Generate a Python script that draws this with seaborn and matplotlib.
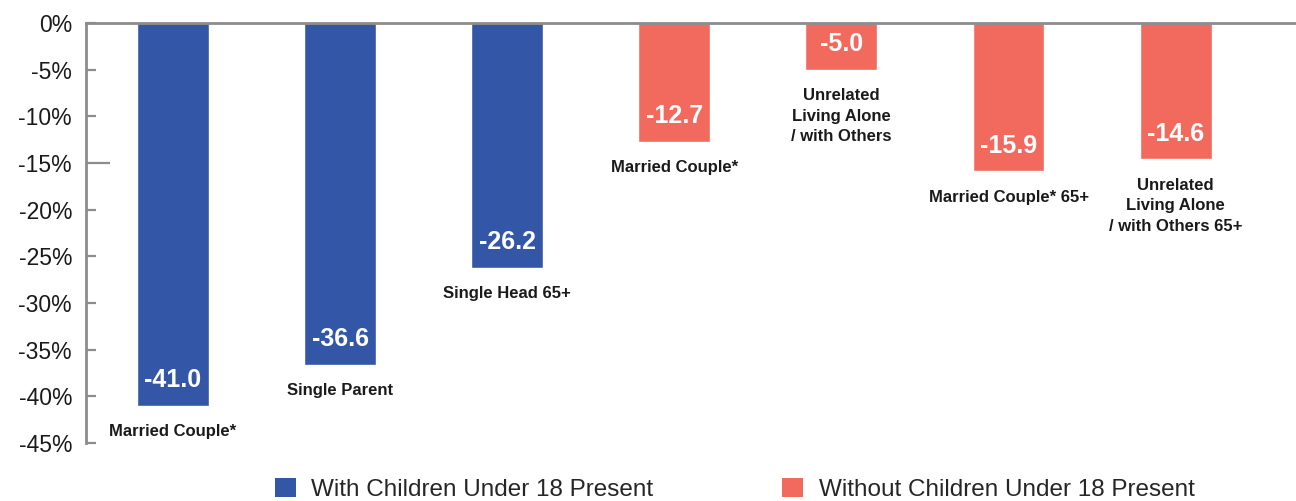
import matplotlib
matplotlib.use("Agg")
import matplotlib.pyplot as plt
from matplotlib.patches import Patch
import pandas as pd
import seaborn as sns

# Household types and their percentage change
labels = [
    "Married Couple*",
    "Single Parent",
    "Single Head 65+",
    "Married Couple*",
    "Unrelated\nLiving Alone\n/ with Others",
    "Married Couple* 65+",
    "Unrelated\nLiving Alone\n/ with Others 65+",
]
values = [-41.0, -36.6, -26.2, -12.7, -5.0, -15.9, -14.6]
groups = ["With Children Under 18 Present"] * 3 + ["Without Children Under 18 Present"] * 4
group_names = ["With Children Under 18 Present", "Without Children Under 18 Present"]
colors = ["#3357A6", "#F26A5D"]
yticks = [0, -5, -10, -15, -20, -25, -30, -35, -40, -45]

sns.set_style("white")
plt.rcParams["font.family"] = ["Liberation Sans", "DejaVu Sans"]

df = pd.DataFrame({"pos": list(range(len(values))), "value": values, "group": groups})

fig = plt.figure(figsize=(12.96, 5.01), dpi=100)
ax = fig.add_axes([86 / 1296, 1 - 443 / 501, 1 - 86 / 1296, (443 - 23) / 501])

sns.barplot(
    data=df, x="pos", y="value", hue="group", hue_order=group_names,
    palette=colors, dodge=False, width=0.43, saturation=1, ax=ax, legend=False,
)

ax.set_xlim(-0.52, 6.72)
ax.set_ylim(-45, 0)
ax.set_xlabel("")
ax.set_ylabel("")
ax.set_xticks([])
ax.set_yticks(yticks)
ax.set_yticklabels([f"{t}%" for t in yticks], fontsize=16.5, color="#1a1a1a")
ax.tick_params(axis="y", left=True, direction="in", length=7.5, width=1.6,
               color="#8c8c8c", pad=10)
for t in ax.yaxis.get_major_ticks():
    if t.get_loc() == -15:
        t.tick1line.set_markersize(17)

for side in ["right", "bottom"]:
    ax.spines[side].set_visible(False)
for side in ["left", "top"]:
    ax.spines[side].set_color("#8c8c8c")
    ax.spines[side].set_linewidth(2)

# Value inside each bar and household label beneath it
for i, (v, lab) in enumerate(zip(values, labels)):
    ax.text(i, v + 2.7, f"{v:.1f}", ha="center", va="center", color="white",
            fontsize=18, fontweight="bold")
    ax.text(i, v - 2.0, lab, ha="center", va="top", color="#1a1a1a",
            fontsize=12, fontweight="bold", linespacing=1.45)

handles = [Patch(facecolor=c, edgecolor="none") for c in colors]
fig.legend(
    handles, group_names, loc="lower center", bbox_to_anchor=(0.567, -0.043),
    ncol=2, frameon=False, handlelength=0.85, handleheight=0.85,
    handletextpad=0.65, columnspacing=5.3,
    prop={"size": 17.5},
)

fig.savefig("out.png", dpi=100)
